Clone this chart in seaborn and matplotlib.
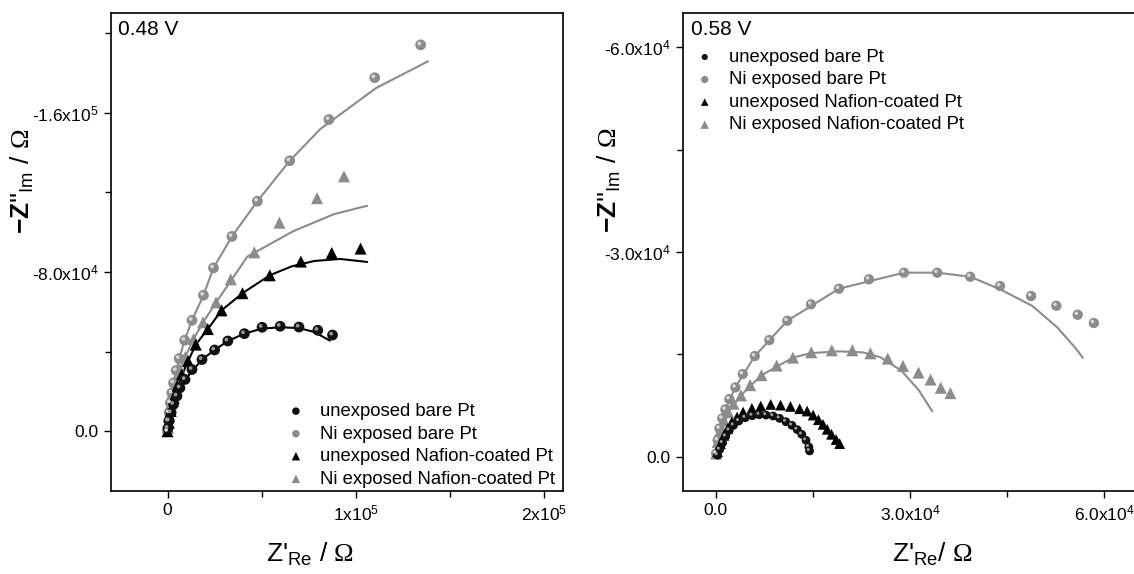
import matplotlib
matplotlib.use("Agg")
import matplotlib.pyplot as plt
import matplotlib.transforms as mtransforms
from matplotlib.ticker import AutoMinorLocator
import seaborn as sns

# ---------- 0.48 V panel (Ohm) ----------
# unexposed bare Pt
l_bare_x = [200, 900, 1900, 3200, 5000, 6600, 9300, 13000, 18300, 25000, 32000,
            40800, 50200, 59800, 69800, 79800, 87600]
l_bare_y = [1500, 5200, 9300, 13500, 17700, 21800, 26000, 31000, 36000, 40800, 45300,
            49000, 52200, 52700, 52300, 50700, 48300]
l_bare_fit_x = [0, 1900, 5000, 9300, 18300, 25000, 32000, 40800, 50000, 59800, 69800, 78000, 86200]
l_bare_fit_y = [0, 9300, 17700, 26000, 36000, 40800, 45300, 49000, 51500, 52200, 51800, 49800, 45500]
# Ni exposed bare Pt
l_nibare_x = [0, 500, 900, 1500, 2300, 3200, 4600, 6200, 9100, 13000, 19100, 24400,
              34200, 47700, 64900, 85700, 110000, 134400]
l_nibare_y = [0, 5200, 9300, 14300, 19300, 24300, 30500, 36500, 45700, 55700, 68300, 82000,
              97800, 115500, 135800, 156500, 177500, 194000]
l_nibare_fit_x = [0, 500, 1500, 3200, 6200, 9100, 13000, 19100, 24400, 34200, 47700, 64900,
                  81200, 110700, 138300]
l_nibare_fit_y = [0, 5200, 14300, 24300, 36500, 45700, 55700, 68300, 82000, 97800, 115500, 135800,
                  151800, 172300, 185700]
# unexposed Nafion-coated Pt
l_naf_x = [0, 700, 1700, 3300, 5200, 7600, 10900, 15000, 21400, 28700, 39800, 54300,
           70800, 87200, 102500]
l_naf_y = [0, 4300, 10200, 16800, 22700, 28500, 35200, 43500, 51300, 60700, 69300, 78300,
           85200, 89500, 91700]
l_naf_fit_x = [0, 1700, 5200, 10900, 15000, 21400, 28700, 39800, 54300, 66000, 78000, 91700, 106000]
l_naf_fit_y = [0, 10200, 22700, 35200, 43500, 51300, 60700, 69300, 78300, 82800, 85500, 86500, 85000]
# Ni exposed Nafion-coated Pt
l_ninaf_x = [300, 900, 1700, 2700, 4000, 6600, 9500, 13800, 18900, 25800, 33600, 46100,
             59400, 79400, 93700]
l_ninaf_y = [1800, 7700, 13500, 19300, 25200, 31000, 37300, 46300, 54700, 64700, 76300, 89800,
             104700, 117000, 128000]
l_ninaf_fit_x = [0, 1700, 4000, 6600, 9500, 13800, 18900, 25800, 33600, 42400, 66900, 88400, 106000]
l_ninaf_fit_y = [0, 13500, 25200, 31000, 37300, 46300, 54700, 64700, 75500, 87700, 100500, 109000, 113200]

# ---------- 0.58 V panel ----------
r_bare_x = [270, 600, 1040, 1530, 2080, 2730, 3550, 4540, 5630, 6720, 7760, 8850, 9840,
            10820, 11750, 12570, 13280, 13930, 14370, 14480]
r_bare_y = [240, 1070, 2040, 3010, 3890, 4620, 5250, 5730, 6030, 6170, 6120, 5980, 5640,
            5150, 4620, 3990, 3300, 2430, 1460, 870]
r_nibare_x = [60, 280, 560, 990, 1480, 2090, 3020, 4160, 6020, 8260, 11040, 14710, 19020,
              23660, 29070, 34200, 39300, 43900, 48700, 52600, 55900, 58400]
r_nibare_y = [500, 2450, 4160, 5630, 6950, 8460, 10170, 12120, 14760, 17100, 19930, 22330, 24620,
              26000, 26970, 26970, 26380, 25020, 23550, 22130, 20810, 19600]
r_nibare_fit_x = [0, 560, 1480, 3020, 6020, 11040, 19020, 29070, 34200, 39300, 43900, 48900,
                  52700, 55500, 56700]
r_nibare_fit_y = [0, 4160, 6950, 10170, 14760, 19930, 24620, 26970, 26970, 26380, 24540, 22100,
                  19000, 16000, 14500]
r_naf_x = [270, 710, 1260, 1800, 2460, 3280, 4210, 5570, 6940, 8470, 10000, 11530, 12950,
           14100, 15030, 15850, 16560, 17210, 17870, 18580, 19130]
r_naf_y = [730, 1940, 3160, 4130, 5100, 5830, 6560, 7100, 7440, 7680, 7580, 7390, 7050,
           6710, 6120, 5440, 4760, 4030, 3300, 2530, 1940]
r_ninaf_x = [50, 270, 710, 1260, 1910, 2730, 3880, 5300, 7050, 9400, 11910, 14750, 17920,
             21090, 23880, 26560, 28910, 31310, 33170, 34750, 36230]
r_ninaf_y = [490, 2190, 3890, 5350, 6560, 7780, 9000, 10500, 11960, 13370, 14530, 15310, 15600,
             15600, 15160, 14390, 13320, 12340, 11320, 10110, 9330]
r_ninaf_fit_x = [0, 710, 1910, 3880, 7050, 11910, 14750, 19100, 22700, 25400, 28700, 31400, 33440]
r_ninaf_fit_y = [0, 3890, 6560, 9000, 11960, 14530, 15200, 15450, 15300, 14600, 12600, 9700, 6660]

# ---------- ticks / labels ----------
series_names = ["unexposed bare Pt", "Ni exposed bare Pt",
                "unexposed Nafion-coated Pt", "Ni exposed Nafion-coated Pt"]
l_xticks = [0, 1e5, 2e5]
l_xticklabels = ["0", "1x10$^{5}$", "2x10$^{5}$"]
l_yticks = [0, 8e4, 1.6e5]
l_yticklabels = ["0.0", "-8.0x10$^{4}$", "-1.6x10$^{5}$"]
r_xticks = [0, 3e4, 6e4]
r_xticklabels = ["0.0", "3.0x10$^{4}$", "6.0x10$^{4}$"]
r_yticks = [0, 3e4, 6e4]
r_yticklabels = ["0.0", "-3.0x10$^{4}$", "-6.0x10$^{4}$"]

sns.set_style("white")
plt.rcParams['font.family'] = ['Liberation Sans', 'DejaVu Sans']
plt.rcParams['mathtext.fontset'] = 'custom'
plt.rcParams['mathtext.rm'] = 'Liberation Serif'
plt.rcParams['mathtext.bf'] = 'Liberation Sans:bold'
plt.rcParams['mathtext.default'] = 'regular'
plt.rcParams['text.color'] = 'black'
plt.rcParams['axes.labelcolor'] = 'black'

BLACK = "#000000"
GREY = "#8c8c8c"

fig = plt.figure(figsize=(11.34, 5.74), dpi=100)
ax1 = fig.add_axes([0.0979, 0.1446, 0.3986, 0.8328])
ax2 = fig.add_axes([0.6027, 0.1446, 0.3973, 0.8328])


def balls(ax, x, y, color, shine, size, label):
    sns.scatterplot(x=x, y=y, ax=ax, color=color, s=size, edgecolor="none",
                    label=label, zorder=3, legend=False)
    # small highlight spot -> shaded sphere look
    off = mtransforms.offset_copy(ax.transData, fig=fig, x=-1.0, y=1.0, units="points")
    ax.scatter(x, y, s=size * 0.12, color=shine, edgecolor="none", transform=off, zorder=4)


def tris(ax, x, y, color, size, label):
    sns.scatterplot(x=x, y=y, ax=ax, color=color, s=size, marker="^", edgecolor="none",
                    label=label, zorder=3, legend=False)


def fit(ax, x, y, color):
    sns.lineplot(x=x, y=y, ax=ax, color=color, lw=1.5, sort=False, estimator=None, zorder=2)


# left panel
fit(ax1, l_nibare_fit_x, l_nibare_fit_y, GREY)
fit(ax1, l_ninaf_fit_x, l_ninaf_fit_y, GREY)
fit(ax1, l_naf_fit_x, l_naf_fit_y, BLACK)
fit(ax1, l_bare_fit_x, l_bare_fit_y, BLACK)
balls(ax1, l_nibare_x, l_nibare_y, GREY, "#d8d8d8", 60, series_names[1])
tris(ax1, l_ninaf_x, l_ninaf_y, GREY, 75, series_names[3])
tris(ax1, l_naf_x, l_naf_y, BLACK, 75, series_names[2])
balls(ax1, l_bare_x, l_bare_y, "#111111", "#9a9a9a", 60, series_names[0])

# right panel
fit(ax2, r_nibare_fit_x, r_nibare_fit_y, GREY)
fit(ax2, r_ninaf_fit_x, r_ninaf_fit_y, GREY)
balls(ax2, r_nibare_x, r_nibare_y, GREY, "#d8d8d8", 55, series_names[1])
tris(ax2, r_ninaf_x, r_ninaf_y, GREY, 75, series_names[3])
tris(ax2, r_naf_x, r_naf_y, BLACK, 60, series_names[2])
balls(ax2, r_bare_x, r_bare_y, "#111111", "#9a9a9a", 40, series_names[0])

for ax, xl, yl, xt, xtl, yt, ytl in [
        (ax1, (-3e4, 2.1e5), (-3e4, 2.1e5), l_xticks, l_xticklabels, l_yticks, l_yticklabels),
        (ax2, (-5e3, 6.46e4), (-5e3, 6.5e4), r_xticks, r_xticklabels, r_yticks, r_yticklabels)]:
    ax.set_xlim(*xl)
    ax.set_ylim(*yl)
    ax.set_xticks(xt)
    ax.set_xticklabels(xtl)
    ax.set_yticks(yt)
    ax.set_yticklabels(ytl)
    ax.xaxis.set_minor_locator(AutoMinorLocator(2))
    ax.yaxis.set_minor_locator(AutoMinorLocator(2))
    ax.tick_params(which="both", direction="out", bottom=True, left=True, top=False,
                   right=False, width=1, colors="black", labelsize=12.5, pad=4)
    ax.tick_params(which="major", length=5)
    ax.tick_params(which="minor", length=4)
    for s in ax.spines.values():
        s.set_color("black")
        s.set_linewidth(1.2)

ax2.spines["right"].set_visible(False)

ax1.text(0.015, 0.985, "0.48 V", transform=ax1.transAxes, ha="left", va="top", fontsize=15)
ax2.text(0.016, 0.985, "0.58 V", transform=ax2.transAxes, ha="left", va="top", fontsize=15)

ylab = r"$\mathbf{-Z}$''$_{Im}$ / $\mathrm{\Omega}$"
ax1.set_xlabel(r"Z'$_{Re}$ / $\mathrm{\Omega}$", fontsize=19)
ax1.set_ylabel(ylab, fontsize=19)
ax2.set_xlabel(r"Z'$_{Re}$/ $\mathrm{\Omega}$", fontsize=19)
ax2.set_ylabel(ylab, fontsize=19)
ax1.xaxis.set_label_coords(0.44, -0.105)
ax1.yaxis.set_label_coords(-0.165, 0.648)
ax2.xaxis.set_label_coords(0.552, -0.105)
ax2.yaxis.set_label_coords(-0.134, 0.65)

for ax, loc, anchor in [(ax1, "lower left", (0.36, -0.02)), (ax2, "upper left", (-0.002, 0.952))]:
    h, lab = ax.get_legend_handles_labels()
    order = [lab.index(n) for n in series_names]
    ax.legend([h[i] for i in order], series_names, loc=loc, bbox_to_anchor=anchor,
              frameon=False, fontsize=13.3, markerscale=0.7, handletextpad=0.8,
              labelspacing=0.3, borderpad=0.2, handlelength=1.0)

fig.savefig("out.png", dpi=100)
